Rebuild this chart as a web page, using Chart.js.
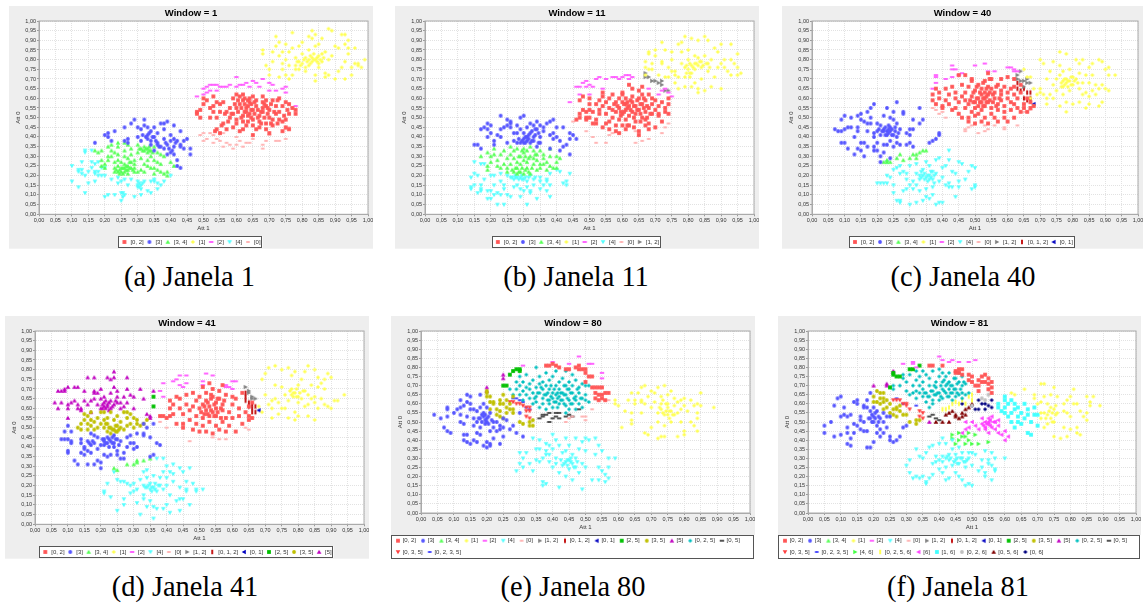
<!DOCTYPE html>
<html>
<head>
<meta charset="utf-8">
<title>Janelas</title>
<script src="https://cdn.jsdelivr.net/npm/chart.js@4"></script>
<style>
  body { margin: 0; background: #fff; }
  canvas { position: absolute; filter: blur(0.35px); }
  .cap { position: absolute; font-family: "Liberation Serif", serif; font-size: 28.4px; line-height: 32px; white-space: nowrap; transform: translateX(-50%); color: #000; }
</style>
</head>
<body>
<script>
// all points are flat x,y pairs in hundredths
const seriesLabels = ["[0, 2]", "[3]", "[3, 4]", "[1]", "[2]", "[4]", "[0]", "[1, 2]", "[0, 1, 2]", "[0, 1]", "[2, 5]", "[3, 5]", "[5]", "[0, 2, 5]", "[0, 5]", "[0, 3, 5]", "[0, 2, 3, 5]", "[4, 6]", "[0, 2, 5, 6]", "[6]", "[1, 6]", "[0, 2, 6]", "[0, 5, 6]", "[0, 6]"];
const seriesColors = ["#ff5555", "#5555ff", "#55ff55", "#ffff55", "#ff55ff", "#55ffff", "#ffafaf", "#808080", "#c00000", "#0000c0", "#00c000", "#c0c000", "#c000c0", "#00c0c0", "#404040", "#ff4040", "#4040ff", "#40ff40", "#ffff40", "#ff40ff", "#40ffff", "#c0c0c0", "#800000", "#000080"];
const seriesShapes = ["rect", "circle", "up", "diamond", "hbar", "down", "oval", "right", "vbar", "left", "rect", "circle", "up", "diamond", "hbar", "down", "oval", "right", "vbar", "left", "rect", "circle", "up", "diamond"];

const tickValues = [0, 0.05, 0.1, 0.15, 0.2, 0.25, 0.3, 0.35, 0.4, 0.45, 0.5, 0.55, 0.6, 0.65, 0.7, 0.75, 0.8, 0.85, 0.9, 0.95, 1];

// Window 1
const w1Red = [48,53,48,52,49,50,49,54,50,57,51,59,50,60,53,61,54,58,53,56,52,55,53,53,52,50,55,57,56,58,55,53,54,50,56,47,54,44,55,42,57,44,58,50,57,53,58,55,59,60,60,62,61,61,62,62,62,59,61,57,60,55,59,52,60,49,60,47,59,45,61,43,62,44,63,46,62,48,62,51,63,53,63,55,64,58,64,60,65,61,66,59,66,56,65,54,64,52,65,49,65,46,66,44,65,41,67,45,67,48,67,51,68,53,68,55,68,58,68,61,69,59,69,56,70,54,70,50,69,47,69,44,70,42,71,46,71,49,72,52,72,56,71,59,73,60,74,56,73,53,73,49,74,48,75,45,74,43,76,44,75,49,76,52,77,55,78,54,78,52,76,57,75,58];
const w1RedCore = [58.5,52,59.5,57,60.5,53,60.5,59,61.5,50,61.5,55,62.5,53,62.5,57,62.5,60,63.5,48,63.5,51,63.5,56,63.5,59,64.5,50,64.5,54,64.5,57,65.5,52,65.5,58,66.5,50,66.5,54,67.5,47,67.5,53,68.5,50,68.5,57,69.5,52,69.5,55,70.5,47,70.5,57,71.5,53,72.5,47,72.5,59,74.5,51,75.5,54,56.5,52,55.5,46,57.5,48,53.5,43];
const w1Blue = [17,37,20,41,21,42,21,40,22,38,23,43,26,38,26,45,27,37,28,47,27,39,29,49,30,40,30,45,31,38,31,44,32,49,32,46,33,45,33,41,33,39,34,38,34,43,35,45,35,40,36,37,36,42,37,47,37,35,38,47,38,44,38,39,39,48,39,36,40,32,40,38,40,41,41,46,41,39,41,35,41,31,42,38,42,28,43,43,43,35,43,24,44,38,44,34,45,39,46,34,46,31,42,25,43,36,39,31,38,34,36,36,35,33,34,36];
const w1BlueCore = [32.5,40,33.5,42,34.5,40,35.5,38,36.5,35,38.5,37,39.5,34,40.5,33,41.5,37,31.5,41];
const w1Green = [17,33,18,32,19,33,19,28,19,25,20,24,20,26,21,35,21,30,21,28,22,36,22,33,22,30,23,32,23,27,23,24,23,22,24,37,24,35,24,31,24,28,24,25,24,22,25,24,25,22,25,27,26,37,26,33,26,30,26,26,26,24,26,22,27,36,27,29,27,25,27,23,27,21,28,34,28,31,28,27,28,24,29,26,29,28,29,24,29,22,30,36,30,32,30,22,31,34,31,29,31,23,32,35,32,33,32,26,32,22,33,34,33,32,33,28,33,25,34,33,34,30,34,24,35,35,35,28,35,24,35,21,36,32,36,27,36,23,37,31,37,26,37,22,38,30,38,21,39,22,39,20,40,27,41,25];
const w1GreenCore = [24.5,23,25.5,24,25.5,21,26.5,23,26.5,25,27.5,24,27.5,27,28.5,23,23.5,23,24.5,21,32.5,34,33.5,33,34.5,32,31.5,33,33.5,35,30.5,34];
const w1Yellow = [68,85,68,83,69,77,70,72,70,75,71,79,71,84,72,87,72,92,73,89,73,71,73,82,74,75,74,84,74,78,75,88,75,80,75,72,76,70,76,77,76,84,77,94,77,72,77,86,78,77,78,81,78,75,79,87,79,79,79,75,80,83,80,78,80,89,81,76,81,81,81,74,82,92,82,85,82,80,82,77,83,95,83,91,83,81,83,79,84,93,84,87,84,80,84,72,84,69,85,88,85,82,85,78,85,76,86,91,86,83,86,79,87,84,87,73,87,71,88,96,88,80,88,72,89,95,89,82,90,87,90,70,91,86,91,74,92,93,92,76,93,70,93,79,93,88,93,93,94,90,94,86,94,83,95,76,95,72,96,86,96,78,97,78,97,77,98,76,99,80];
const w1YellowCore = [79.5,77,80.5,80,81.5,79,82.5,82,83.5,80,83.5,83,84.5,79,84.5,81,85.5,80,86.5,81,82.5,78,78.5,79];
const w1Pink = [48,61,50,62,50,65,51,63,51,66,52,64,52,67,53,67,54,64,54,67,55,66,56,66,57,66,58,67,60,66,60,71,61,67,62,67,63,68,64,66,65,69,66,68,67,66,68,70,70,68,71,67,70,64,72,64,74,65,75,66,75,63,78,56];
const w1Cyan = [10,25,10,17,12,22,12,23,12,14,13,23,13,27,13,21,14,20,14,11,14,32,14,33,15,16,15,22,16,27,16,33,16,24,17,22,17,17,17,21,17,26,18,27,18,20,18,22,19,24,19,20,20,9,20,24,20,20,21,10,22,18,23,10,24,19,24,16,25,7,25,11,25,17,26,10,26,18,27,15,28,18,29,9,30,15,30,17,30,14,31,15,31,13,31,10,32,17,33,12,34,17,34,11,35,17,35,18,36,16,36,13,37,15,38,17,40,20];
const w1CyanCore = [30.5,16,30.5,14,31.5,16,25.5,11,25.5,9];
const w1Rose = [49,41,50,38,50,42,51,39,52,42,53,37,53,41,54,39,55,38,56,35,56,42,57,37,58,36,59,34,60,36,60,40,61,38,62,35,63,37,64,37,65,39,68,34,68,36,69,38,70,41,72,38,73,38,75,39,75,44,76,45];

// Window 11
const w11Red = [46,49,47,50,47,52,47,59,48,54,48,61,49,50,49,49,49,53,50,60,50,57,50,54,50,50,51,47,51,53,52,47,52,49,52,57,53,52,53,54,53,59,54,56,54,61,54,63,54,45,55,47,55,58,55,52,56,48,56,44,56,60,56,55,57,50,57,54,57,62,58,53,58,58,58,46,58,43,59,49,59,55,59,60,59,42,60,46,60,52,60,58,60,62,60,63,61,44,61,49,61,54,61,57,61,60,62,67,62,51,62,56,62,46,63,53,63,58,63,61,63,65,64,52,64,56,64,48,65,64,65,60,65,54,65,43,65,41,66,66,66,50,66,57,66,62,67,49,67,46,67,53,67,59,68,47,68,44,68,55,68,62,69,52,69,57,69,60,70,45,70,54,70,59,71,52,71,56,71,51,72,48,72,58,73,55,73,53,74,57,74,60,74,52];
const w11RedCore = [60.5,57,60.5,53,61.5,55,61.5,58,62.5,54,62.5,59,63.5,56,63.5,50,64.5,54,64.5,59,65.5,57,65.5,52,66.5,55,66.5,60,67.5,50,67.5,56,58.5,56,59.5,53,59.5,51,57.5,57,68.5,52,61.5,46,63.5,45,65.5,48];
const w11Blue = [15,36,16,36,17,44,17,34,18,45,19,47,19,44,19,40,20,46,20,42,21,36,22,41,21,38,23,51,23,44,23,40,24,45,25,49,25,46,25,37,26,48,26,47,26,45,27,42,27,38,28,46,28,37,28,42,29,37,29,50,29,44,30,51,30,42,30,39,30,37,31,40,31,38,31,45,32,37,32,42,32,47,33,46,33,40,33,38,34,44,34,48,34,35,35,40,35,37,35,46,36,45,36,43,37,47,38,41,38,48,38,34,39,49,39,42,39,39,40,40,40,45,41,33,41,38,42,45,42,35,43,36,44,31,44,42,44,39,45,41,46,39];
const w11BlueCore = [29.5,38,30.5,40,30.5,37,31.5,41,31.5,39,32.5,43,32.5,38,33.5,41,33.5,44,34.5,42,34.5,37,28.5,39];
const w11Green = [17,30,19,32,19,25,19,23,20,30,20,27,21,34,21,31,22,25,22,28,23,24,23,31,24,26,24,33,25,22,25,29,25,24,26,31,26,26,26,35,27,33,27,22,27,29,28,27,28,24,28,21,28,34,29,30,29,22,29,26,30,34,30,28,30,32,30,21,31,33,31,24,31,27,32,30,32,21,32,35,33,26,33,29,33,33,34,23,34,28,34,31,35,26,35,33,35,24,36,31,36,29,36,26,37,27,37,23,38,30,38,34,38,25,39,24,40,30,40,27,40,24,41,29];
const w11GreenCore = [27.5,24,28.5,22,28.5,30,29.5,24,29.5,33,30.5,23,30.5,30,31.5,22,31.5,29,32.5,24,26.5,23,33.5,31];
const w11Yellow = [67,76,67,79,67,72,68,84,68,83,68,75,69,75,69,78,70,85,70,82,71,72,72,89,72,78,72,79,73,85,73,71,74,71,74,76,75,80,75,74,75,84,76,72,76,68,76,74,77,88,77,71,77,65,78,89,78,84,78,78,79,92,79,71,79,76,79,66,80,85,80,80,80,75,81,91,81,77,81,73,81,66,82,82,82,78,82,75,82,68,83,90,83,81,83,77,83,65,83,63,84,79,84,76,84,70,85,92,85,82,85,64,86,90,86,78,86,74,87,80,87,66,88,86,88,71,89,84,89,76,90,88,90,78,90,65,91,80,91,76,92,74,93,88,93,80,93,72,94,78,95,83,95,76,95,72,96,73];
const w11YellowCore = [79.5,77,80.5,73,80.5,78,81.5,76,82.5,78,83.5,79,84.5,77,85.5,78,86.5,76,79.5,73,80.5,71];
const w11Pink = [44,58,46,66,47,66,47,62,48,68,49,69,49,66,50,67,50,62,51,66,52,70,53,71,54,65,55,70,57,71,58,71,59,70,60,71,61,72,62,72,62,70,63,71,68,65,71,62,72,64,73,65,74,63,75,61];
const w11Cyan = [14,19,14,14,14,13,15,21,15,27,15,15,16,11,16,20,17,15,17,12,17,26,17,13,18,18,18,26,19,12,19,8,20,8,20,12,20,20,21,20,21,15,21,10,22,5,22,11,23,17,23,21,23,10,24,5,24,15,24,13,25,10,25,20,26,19,26,9,27,18,27,14,28,15,28,19,29,19,29,9,29,13,30,18,30,12,31,17,31,14,31,5,32,12,32,11,32,20,33,18,33,15,34,8,35,13,35,17,35,19,36,15,37,12,37,18,37,17,38,21,38,9,38,15,40,23,41,22,42,16,43,17,44,21,43,15];
const w11CyanCore = [27.5,19,28.5,18,29.5,20,29.5,18,30.5,19,31.5,19,26.5,19,27.5,20,33.5,19];
const w11Rose = [45,48,49,43,51,40,52,37,55,37,56,41,57,42,59,42,64,37,66,38,68,39,72,42,73,45,74,47,64,43];
const w11Gray = [67,73,67,71,68,71,69,69,70,69,71,68,72,67,72,69,73,64,74,64];

// Window 40
const w40Red = [37,62,37,59,38,65,38,57,39,60,39,63,40,56,40,55,41,65,41,59,42,62,42,57,43,54,43,66,44,60,44,63,44,55,45,58,45,52,45,72,46,67,46,61,46,50,47,55,47,59,47,72,47,63,48,50,48,66,48,57,48,48,49,53,49,70,49,61,49,69,50,47,50,58,50,55,50,64,50,51,51,67,51,60,51,56,51,52,52,48,52,62,52,65,52,58,52,54,53,69,53,60,53,63,53,56,53,50,54,73,54,66,54,62,54,58,54,47,55,70,55,65,55,55,55,52,56,60,56,63,56,50,57,67,57,57,57,54,57,48,58,70,58,62,58,59,58,64,59,50,59,56,59,66,59,53,60,71,60,60,60,63,60,48,61,58,61,65,61,54,62,70,62,66,62,57,62,62,62,50,63,55,63,60,64,67,64,53,64,63,65,57,65,55,66,60,66,53,67,58,67,55,68,56];
const w40RedCore = [50.5,60,50.5,66,51.5,63,51.5,58,52.5,60,52.5,56,52.5,68,53.5,65,53.5,61,53.5,58,54.5,63,54.5,59,54.5,70,55.5,62,55.5,58,56.5,66,56.5,56,57.5,60,48.5,59,49.5,58,49.5,63];
const w40Blue = [7,44,8,43,9,43,9,37,9,49,10,44,10,51,10,37,11,34,11,45,12,45,12,50,13,31,13,40,14,51,14,34,14,43,14,45,15,33,15,52,15,49,15,37,16,48,16,30,16,37,17,53,17,47,17,43,17,35,18,50,18,47,18,55,19,57,19,40,19,35,19,33,19,42,20,43,20,37,20,33,20,47,21,46,21,41,21,27,21,30,22,51,22,44,22,36,22,32,22,43,23,55,23,43,23,41,23,36,24,50,24,45,24,43,24,38,24,29,25,53,25,49,25,41,25,35,26,40,26,37,26,58,26,47,27,44,27,36,28,52,28,53,29,42,29,36,30,44,30,41,30,37,31,35,31,49,31,44,33,55,33,47,34,49,36,37,37,38,38,39,39,42,39,41];
const w40BlueCore = [21.5,43,22.5,45,22.5,41,23.5,44,23.5,42,23.5,46,24.5,41,24.5,44,25.5,43,25.5,45,26.5,42,20.5,44];
const w40Green = [22,27,23,27,23,28,24,27,26,29,27,31,28,28,30,29,31,31,32,31,32,29,33,32,34,33,35,33];
const w40Yellow = [65,75,66,71,67,71,67,60,68,65,68,56,69,62,70,63,70,80,70,65,71,62,71,78,72,70,72,60,72,57,73,62,73,74,74,67,74,79,74,60,75,70,75,64,76,77,76,84,76,72,76,56,77,66,77,69,77,74,77,62,78,83,78,68,78,70,78,58,78,53,79,75,79,64,79,69,80,67,80,71,80,57,81,70,81,80,82,73,82,78,82,65,82,58,83,62,83,68,83,80,84,72,84,63,84,55,85,76,85,68,85,61,85,57,86,78,86,72,86,64,87,67,87,62,88,80,88,65,88,56,89,79,89,67,89,58,90,75,90,65,91,64,91,76,91,72,93,72];
const w40YellowCore = [76.5,68,77.5,70,77.5,67,78.5,69,78.5,66,79.5,71,79.5,67,80.5,69,76.5,66,81.5,68];
const w40Pink = [37,65,38,72,38,71,38,68,41,70,43,77,43,75,44,75,43,71,45,72,46,73,50,77,53,78,54,74,56,74,60,76,61,76,62,75,62,74,63,74];
const w40Cyan = [20,16,21,16,22,16,23,27,23,20,23,16,24,19,25,15,25,23,26,24,25,11,26,7,27,25,27,21,27,7,27,6,28,12,28,22,29,18,29,21,29,13,30,15,30,25,30,5,31,17,31,13,32,21,32,26,32,15,32,6,33,20,33,12,33,18,34,7,34,23,34,20,35,27,35,19,35,9,35,13,36,20,36,18,36,25,36,8,37,22,37,18,37,14,37,10,38,21,38,28,38,5,39,17,39,29,39,6,40,19,40,24,40,6,41,15,41,25,42,16,42,14,42,28,42,33,43,14,43,22,44,21,44,9,45,14,45,27,45,17,46,26,47,18,48,22,49,25,49,13,50,14,50,24,50,15];
const w40CyanCore = [33.5,19,34.5,18,34.5,21,35.5,20,35.5,17,36.5,19,36.5,22,37.5,20,37.5,16,33.5,22];
const w40Rose = [37,55,38,54,39,52,40,53,41,50,47,44,47,43,48,45,49,46,51,42,53,43,53,46,54,44,56,46,59,44,59,45,63,46,65,53,66,53,67,54];
const w40Gray = [63,72,63,70,64,74,64,69,65,69,65,66,66,70,66,68,67,68];
const w40DarkRed = [63,68,63,65,64,64,65,65,66,63,67,63,66,59,65,60,67,59,67,60];
const w40DarkBlue = [68,57];

// Window 41
const w41Red = [38,56,39,56,40,55,41,64,41,60,41,56,42,62,42,57,43,66,43,52,44,60,44,65,45,57,45,50,45,52,46,67,46,62,47,54,47,59,48,68,48,61,48,49,49,64,49,56,49,52,50,66,50,60,50,48,51,71,51,55,51,62,51,51,52,68,52,64,52,59,52,48,53,73,53,56,53,61,53,53,54,70,54,66,54,58,54,47,55,63,55,60,55,51,55,56,56,69,56,65,56,49,57,72,57,59,57,53,57,62,58,67,58,55,58,48,59,58,59,51,60,62,60,66,60,55,61,65,61,48,62,56,62,60,63,68,63,52,64,58,65,54,65,61,65,56,66,55,66,63];
const w41RedCore = [51.5,61,52.5,57,52.5,63,53.5,59,53.5,65,54.5,56,54.5,62,55.5,58,55.5,65,56.5,60,56.5,55,53.5,67,51.5,57,50.5,58,57.5,64];
const w41Blue = [8,44,9,44,9,48,10,51,10,44,10,37,10,38,11,48,11,42,11,43,12,33,13,31,14,37,14,44,14,42,15,39,15,40,15,36,16,43,16,31,16,38,17,47,17,41,17,37,18,46,18,42,18,31,19,33,19,45,19,39,20,41,20,32,20,29,21,44,21,43,21,41,21,36,22,45,22,42,22,35,23,43,23,36,24,46,24,40,24,42,25,44,25,38,25,36,26,43,26,34,27,37,27,34,28,45,28,40,29,46,29,42,30,42,30,39,31,47,31,40,33,52,33,46,33,47,34,50,35,45,35,35,36,36,36,52,37,42,38,41];
const w41BlueCore = [20.5,44,21.5,42,22.5,44,22.5,40,23.5,42,23.5,45,24.5,44,16.5,42,17.5,43,25.5,41];
const w41Green = [24,29,25,28,28,31,30,31,31,33,31,32,33,33,35,34];
const w41Yellow = [68,61,69,58,69,75,70,78,70,67,71,81,71,62,72,60,72,64,72,55,73,72,73,82,73,65,74,63,74,57,75,80,75,71,75,60,76,67,76,60,77,81,77,55,77,64,78,67,78,77,78,70,79,79,79,68,79,58,79,54,80,72,80,66,80,63,80,56,81,75,81,65,82,79,82,69,82,61,83,82,83,67,83,62,83,56,84,65,84,72,85,80,85,66,85,63,85,54,86,76,86,71,86,60,87,73,87,65,88,75,88,62,88,70,89,78,89,61,90,76,90,60,91,64,92,64,94,67];
const w41YellowCore = [78.5,68,79.5,70,79.5,66,80.5,68,77.5,69,78.5,66,81.5,69];
const w41Pink = [38,69,39,66,39,73,42,74,43,75,44,72,45,71,44,77,46,77,46,73,51,74,51,72,52,78,54,77,59,71,60,70,58,71,58,72,60,74,61,74];
const w41Cyan = [21,16,21,17,22,21,23,14,24,27,25,7,25,23,26,22,27,13,27,10,27,22,28,21,29,16,29,20,30,17,30,21,31,18,31,11,32,5,32,23,33,15,33,27,33,20,33,13,34,19,34,28,34,9,34,24,35,18,35,12,35,21,36,9,36,19,36,3,36,25,37,17,37,34,37,8,38,24,38,20,39,27,39,18,39,34,39,8,40,30,40,10,40,20,40,24,41,27,41,15,41,6,42,31,42,22,42,26,43,12,44,29,44,13,44,19,44,7,45,27,45,13,46,18,46,22,46,17,47,29,47,10,48,21,49,18,49,17,51,18];
const w41CyanCore = [34.5,20,35.5,19,35.5,17,36.5,21,36.5,18,33.5,19,37.5,20];
const w41Rose = [38,53,40,50,47,43,54,45,56,44,58,44,64,50,65,49];
const w41Gray = [64,71,65,69,65,68,66,66,66,65,67,65];
const w41DarkRed = [64,68,64,66,64,64,65,63,65,61,66,60,66,62,66,58,67,58,67,61];
const w41DarkBlue = [68,59];
const w41DarkGreen = [36,66,36,61];
const w41Olive = [13,50,14,49,14,52,15,54,15,57,16,49,16,52,16,56,17,58,17,54,17,51,18,49,18,53,19,55,19,50,20,52,20,58,21,58,21,54,21,50,22,48,22,52,22,55,23,58,23,50,23,47,24,54,24,49,25,48,25,51,25,56,26,50,26,53,27,58,27,49,28,58,28,55,28,51,29,57,29,52,30,55,30,50,31,54,31,52,32,51,33,52,34,54];
const w41OliveCore = [23.5,49,24.5,48,24.5,51,25.5,49,22.5,50,21.5,52];
const w41Purple = [6,63,7,60,7,69,8,63,8,69,9,69,9,70,10,55,10,62,10,60,10,71,11,63,12,64,12,71,13,71,13,62,13,60,14,60,14,59,15,69,15,64,16,76,16,62,17,58,17,64,18,76,18,68,18,69,18,65,19,68,19,62,20,65,20,70,20,60,21,63,21,61,21,66,22,62,22,61,22,76,23,60,23,68,23,75,23,64,24,79,24,76,24,62,24,71,25,69,25,66,25,63,26,63,26,60,27,61,27,66,28,76,28,70,28,63,29,67,30,60,30,66,32,70,33,65,35,56,35,55,34,57,36,69];
const w41PurpleCore = [20.5,62,21.5,60,21.5,64,22.5,59,22.5,63,23.5,61,24.5,64,20.5,60];

// Window 80
const w80Red = [38,81,39,81,40,82,41,81,42,80,44,79,45,79,47,80,48,81,48,79,49,79,50,79,50,77,51,75,52,75,50,72,52,69,53,69,53,66,53,63,54,69,54,65,54,62,55,69,55,65,55,63,56,62,56,66,57,66];
const w80Blue = [4,54,6,52,7,47,8,45,8,57,8,58,8,53,9,44,10,55,11,57,12,62,12,58,12,54,12,50,13,43,13,59,13,49,13,40,14,65,14,61,14,53,14,43,14,39,15,64,15,60,15,57,15,38,16,57,16,52,16,48,16,40,17,50,17,56,17,39,17,44,18,65,18,58,18,52,18,47,18,43,19,60,19,55,19,53,19,37,20,52,20,50,20,58,20,39,20,36,21,55,21,45,21,37,21,38,22,50,22,47,22,41,23,45,23,50,24,48,24,38,24,46,25,52,25,42,25,47,26,51,27,46,28,48,29,44,31,42,30,55];
const w80BlueCore = [17.5,52,18.5,50,18.5,54,19.5,51,19.5,49,19.5,54,20.5,53,20.5,49,21.5,51];
const w80Yellow = [59,62,59,60,60,59,61,47,62,56,63,62,64,55,64,66,65,60,64,51,64,49,65,62,66,66,67,62,67,55,67,69,67,61,68,70,68,44,68,60,69,43,69,64,70,67,70,58,70,47,71,66,71,61,72,55,72,50,72,41,72,69,73,60,73,57,73,64,73,42,74,70,74,54,74,48,74,42,75,65,75,58,75,54,75,60,76,56,76,50,76,67,77,59,77,54,77,63,78,61,78,55,78,42,79,50,79,57,79,62,80,63,80,45,80,43,80,59,81,56,82,62,82,50,83,59,83,48,84,60,84,55,84,45,84,52,85,66,85,59,89,58];
const w80YellowCore = [72.5,58,73.5,55,74.5,60,74.5,56,75.5,56,75.5,52,73.5,62,76.5,54];
const w80Pink = [31,81,40,83,45,82,48,86,51,82,52,82,55,77,55,74];
const w80Cyan = [29,23,30,27,30,33,31,25,31,30,32,33,33,27,34,23,34,41,35,29,35,35,36,40,36,35,36,28,37,15,37,17,37,30,38,38,38,16,38,34,38,32,39,37,39,28,39,32,40,35,40,25,40,43,41,40,41,27,41,30,42,22,42,14,42,37,43,33,43,26,44,41,44,20,44,28,44,34,45,37,45,29,45,24,46,27,46,32,46,18,47,25,47,30,47,41,48,35,48,22,49,13,49,27,49,39,50,25,50,34,50,41,51,40,52,18,53,32,53,41,54,18,54,25,54,37,55,23,55,34,56,17,56,21,57,30,57,25,57,19,59,30];
const w80CyanCore = [43.5,27,44.5,29,44.5,26,45.5,28,45.5,30,46.5,25,47.5,28,42.5,29];
const w80Rose = [56,62,57,62,52,57,44,50,45,52,46,53,49,53,50,53,50,51];
const w80DarkGreen = [25,70,26,70,27,76,28,78,29,79,30,79,30,78];
const w80Olive = [20,66,20,64,20,67,21,61,21,64,21,57,22,60,22,61,23,57,23,54,24,60,24,62,24,56,24,53,25,60,25,65,25,52,26,58,26,55,26,62,27,60,27,57,28,55,28,57,28,64,30,50,31,49,33,50,33,48,34,48,34,51];
const w80Purple = [20,67,20,69,25,74,25,76];
const w80Teal = [27,68,28,65,29,72,29,68,30,75,30,70,30,65,31,72,31,67,31,62,32,69,32,65,32,76,33,63,33,68,33,71,34,60,34,66,34,73,35,69,35,64,35,61,35,80,36,75,36,71,36,66,36,58,37,72,37,68,37,63,37,60,38,77,38,65,38,70,38,57,39,73,39,68,39,62,39,60,40,75,40,66,40,63,40,58,41,78,41,70,41,65,41,61,42,72,42,68,42,64,42,60,43,74,43,66,43,62,44,78,44,70,44,65,44,59,44,55,45,72,45,68,45,62,45,57,46,76,46,66,46,70,46,60,47,73,47,64,47,62,47,57,48,69,48,66,48,60,49,71,49,63,49,58,50,70,50,65,50,62,51,70,51,61];
const w80TealCore = [39.5,64,40.5,68,40.5,61,41.5,66,41.5,63,41.5,58,42.5,66,42.5,62,43.5,70,43.5,65,43.5,60,44.5,68,44.5,63,45.5,66,45.5,60,38.5,66,38.5,62,39.5,70,46.5,63,47.5,68,36.5,69,35.5,66,34.5,63,37.5,65,48.5,63];
const w80Dark = [36,52,37,53,37,54,38,54,39,55,39,50,40,52,41,55,41,53,42,52,42,55,44,53,45,54,46,53,48,57];
const w80RedDown = [27,61,28,61,29,60,30,60,31,59,32,56,32,53,32,58,33,52,33,56,33,58];
const w80BlueOval = [28,63,29,63,30,62,31,61,32,58,33,57];

// Window 81
const w81Red = [37,81,38,81,41,81,45,78,45,77,46,79,46,77,47,79,47,76,49,76,49,73,50,75,50,72,51,70,52,73,52,70,52,67,53,72,53,75,54,72,54,76,55,74,55,71,55,68,56,72,56,69,56,66];
const w81Blue = [5,48,5,44,7,50,8,59,8,42,9,63,10,43,10,53,10,64,11,54,11,58,12,44,12,47,12,38,12,53,13,41,13,54,13,37,14,44,14,49,14,61,15,60,15,62,15,48,16,46,16,51,16,53,17,59,17,58,17,50,17,45,18,62,18,58,18,45,18,36,19,56,19,52,19,66,19,36,20,58,20,53,20,50,20,39,21,56,21,48,21,44,22,52,22,46,22,42,23,55,23,50,23,44,24,53,24,47,25,42,25,40,25,53,26,39,27,40,28,42,29,47,30,48];
const w81BlueCore = [18.5,52,19.5,54,19.5,50,20.5,52,20.5,55,21.5,53,21.5,50];
const w81Yellow = [62,66,63,65,66,68,69,63,69,65,70,60,71,71,71,61,71,55,71,52,72,55,72,64,72,71,72,47,73,60,73,54,73,49,74,65,74,58,74,52,75,69,75,57,75,50,75,42,76,64,76,55,77,41,78,56,78,60,78,47,79,62,79,42,79,55,80,64,80,46,80,53,81,68,81,60,82,44,82,47,82,60,83,56,83,43,84,53,85,64,85,55,85,51,86,59,86,61,87,64,89,59];
const w81YellowCore = [73.5,56,74.5,55,74.5,50,75.5,54,75.5,59,72.5,52];
const w81Pink = [29,82,32,83,32,82,33,80,40,86,41,84,43,83,44,84,46,83,49,83,51,84];
const w81Cyan = [30,26,31,29,31,22,32,19,33,20,33,35,34,19,34,31,35,20,35,30,36,17,36,33,36,16,37,36,37,19,38,21,38,37,38,27,39,31,39,28,40,38,40,29,40,24,41,41,41,31,41,28,41,22,42,38,42,18,42,30,42,25,43,29,43,19,43,32,44,40,44,26,44,35,45,29,45,22,45,32,46,20,46,36,46,27,47,30,47,33,47,18,48,28,48,25,48,15,49,16,49,33,49,30,50,33,50,26,50,15,51,32,52,23,53,29,53,25,54,20,54,34,54,22,55,27,55,29,56,33,56,18,56,26,57,30,57,23,57,24,60,30];
const w81CyanCore = [43.5,30,44.5,28,45.5,30,45.5,27,46.5,30,47.5,28,48.5,29,42.5,31];
const w81DarkGreen = [26,77,26,76,27,75,28,75,31,79,32,79,34,81,25,69];
const w81Olive = [20,64,20,61,21,67,21,61,22,66,22,63,22,60,23,57,23,66,23,63,23,61,24,62,24,58,25,55,25,60,26,54,26,57,27,57,27,58,27,53,28,59,28,56,29,54,30,54,31,50,33,51,33,49,34,51];
const w81Purple = [20,70,24,71,24,70,26,78,37,50];
const w81Teal = [26,70,26,68,28,70,29,74,29,76,30,67,30,72,31,76,31,65,32,70,32,66,33,78,33,73,33,67,33,63,34,75,34,70,34,66,35,78,35,72,35,68,35,64,36,76,36,66,36,61,37,74,37,70,37,64,37,58,38,78,38,67,38,62,38,60,39,72,39,69,39,65,40,79,40,75,40,66,40,62,41,77,41,72,41,68,41,63,42,75,42,70,42,66,43,77,43,72,43,68,43,64,44,70,44,66,44,62,45,74,45,68,45,64,46,72,46,77,46,65,47,70,47,66,47,63,47,75,48,71,48,65,49,66];
const w81TealCore = [39.5,66,40.5,70,40.5,64,41.5,67,41.5,73,42.5,71,42.5,64,43.5,70,43.5,66,44.5,74,44.5,68,45.5,71,45.5,66,38.5,65,38.5,70,37.5,67,36.5,64,35.5,66,46.5,68,47.5,72];
const w81Dark = [37,53,38,54,39,52,40,51];
const w81RedDown = [26,62,27,62,28,62,29,60,30,60,31,57,30,59,34,56,34,53,35,55,35,52];
const w81BlueOval = [27,63,29,60,33,59];
const w81GreenRight = [44,43,44,41,45,38,46,40,46,44,47,42,48,42,48,38,49,44,49,40,50,38,51,43,52,38,55,39];
const w81YellowBar = [41,57,42,57,43,58,44,60,45,61,46,60,47,62,48,60,49,64,50,62,50,65];
const w81MagentaLeft = [47,44,48,46,48,50,49,47,50,50,51,48,52,46,53,52,53,49,54,47,54,50,54,46,55,44,55,52,55,49,55,50,56,47,56,53,57,46,57,50,58,44,58,51,58,48,59,43,60,40,60,45,61,42,54.5,49,55.5,51,55.5,48,56.5,50,53.5,48];
const w81CyanRect = [58,60,58,58,59,56,60,62,60,64,60,58,60,55,61,53,61,60,62,55,62,62,62,50,63,57,63,47,63,60,64,50,64,53,64,58,65,55,65,49,66,52,66,60,67,44,67,57,67,54,68,43,68,50,69,58,69,54,70,54,70,48];
const w81LightGray = [50,59,53,63,54,62,55,65];
const w81DarkRedUp = [39,50,41,50,42,54,43,50,43,55,44,56,45,53,45,54,46,52,47,53,47,55,48,54,48,57,49,58,50,60];
const w81Navy = [47,60,50,59,51,57,52,57,52,62,53,60,54,57,54,60,55,59,56,58,56,62];

const none = [];

// one list per window, same order as seriesLabels
const w1Series = [[...w1Red, ...w1RedCore], [...w1Blue, ...w1BlueCore], [...w1Green, ...w1GreenCore], [...w1Yellow, ...w1YellowCore], w1Pink, [...w1Cyan, ...w1CyanCore], w1Rose];
const w11Series = [[...w11Red, ...w11RedCore], [...w11Blue, ...w11BlueCore], [...w11Green, ...w11GreenCore], [...w11Yellow, ...w11YellowCore], w11Pink, [...w11Cyan, ...w11CyanCore], w11Rose, w11Gray];
const w40Series = [[...w40Red, ...w40RedCore], [...w40Blue, ...w40BlueCore], w40Green, [...w40Yellow, ...w40YellowCore], w40Pink, [...w40Cyan, ...w40CyanCore], w40Rose, w40Gray, w40DarkRed, w40DarkBlue];
const w41Series = [[...w41Red, ...w41RedCore], [...w41Blue, ...w41BlueCore], w41Green, [...w41Yellow, ...w41YellowCore], w41Pink, [...w41Cyan, ...w41CyanCore], w41Rose, w41Gray, w41DarkRed, w41DarkBlue, w41DarkGreen, [...w41Olive, ...w41OliveCore], [...w41Purple, ...w41PurpleCore]];
const w80Series = [w80Red, [...w80Blue, ...w80BlueCore], none, [...w80Yellow, ...w80YellowCore], w80Pink, [...w80Cyan, ...w80CyanCore], w80Rose, none, none, none, w80DarkGreen, w80Olive, w80Purple, [...w80Teal, ...w80TealCore], w80Dark, w80RedDown, w80BlueOval];
const w81Series = [w81Red, [...w81Blue, ...w81BlueCore], none, [...w81Yellow, ...w81YellowCore], w81Pink, [...w81Cyan, ...w81CyanCore], none, none, none, none, w81DarkGreen, w81Olive, w81Purple, [...w81Teal, ...w81TealCore], w81Dark, w81RedDown, w81BlueOval, w81GreenRight, w81YellowBar, w81MagentaLeft, w81CyanRect, w81LightGray, w81DarkRedUp, w81Navy];

const panels = [
  { title: "Window = 1", caption: "(a) Janela 1", series: w1Series, left: 9, top: 6, width: 364, plotLeft: 39, plotRight: 369, capX: 189.5, capY: 261 },
  { title: "Window = 11", caption: "(b) Janela 11", series: w11Series, left: 395, top: 6, width: 364, plotLeft: 425, plotRight: 755, capX: 576, capY: 261 },
  { title: "Window = 40", caption: "(c) Janela 40", series: w40Series, left: 782, top: 6, width: 361, plotLeft: 812, plotRight: 1141, capX: 963, capY: 261 },
  { title: "Window = 41", caption: "(d) Janela 41", series: w41Series, left: 5, top: 316, width: 364, plotLeft: 35, plotRight: 365, capX: 185, capY: 571 },
  { title: "Window = 80", caption: "(e) Janela 80", series: w80Series, left: 391, top: 316, width: 364, plotLeft: 421, plotRight: 751, capX: 573, capY: 571, wide: true },
  { title: "Window = 81", caption: "(f) Janela 81", series: w81Series, left: 778, top: 316, width: 363, plotLeft: 808, plotRight: 1137, capX: 958, capY: 571, wide: true },
];

function toPoints(flat) {
  const out = [];
  for (let i = 0; i < flat.length; i += 2) {
    out.push({ x: flat[i] / 100, y: flat[i + 1] / 100 });
  }
  return out;
}

function marker(shape, color) {
  const c = document.createElement("canvas");
  c.width = 8;
  c.height = 8;
  const g = c.getContext("2d");
  g.fillStyle = color;
  g.translate(4, 4);
  g.beginPath();
  if (shape === "rect") g.rect(-1.9, -1.9, 3.8, 3.8);
  if (shape === "hbar") g.rect(-2.2, -0.9, 4.4, 1.8);
  if (shape === "vbar") g.rect(-0.9, -2.2, 1.8, 4.4);
  if (shape === "circle") g.arc(0, 0, 1.9, 0, Math.PI * 2);
  if (shape === "oval") g.ellipse(0, 0, 2.2, 1.1, 0, 0, Math.PI * 2);
  const tri = { up: [0, -2.3, 2.3, 1.8, -2.3, 1.8], down: [0, 2.3, 2.3, -1.8, -2.3, -1.8], right: [2.3, 0, -1.8, 2.3, -1.8, -2.3], left: [-2.3, 0, 1.8, 2.3, 1.8, -2.3], diamond: [0, -2.1, 2.1, 0, 0, 2.1, -2.1, 0] }[shape];
  if (tri) {
    g.moveTo(tri[0], tri[1]);
    for (let i = 2; i < tri.length; i += 2) g.lineTo(tri[i], tri[i + 1]);
    g.closePath();
  }
  g.fill();
  return c;
}

// gray panel, white plot and the box round the legend
const panelFrame = {
  id: "panelFrame",
  beforeDraw(chart, args, opts) {
    const ctx = chart.ctx;
    const a = chart.chartArea;
    const hits = chart.legend.legendHitBoxes;
    const boxTop = Math.min(...hits.map((h) => h.top)) - 2.7;
    const boxBottom = Math.max(...hits.map((h) => h.top + h.height)) + 2.7;
    ctx.save();
    ctx.fillStyle = "#eeeeee";
    ctx.fillRect(0, 0, chart.width, opts.wide ? boxTop : boxBottom + 1);
    ctx.fillStyle = "#ffffff";
    ctx.fillRect(a.left, a.top, a.right - a.left, a.bottom - a.top);
    let l = 0;
    let w = chart.width - 1;
    if (!opts.wide) {
      l = Math.min(...hits.map((h) => h.left)) - 3;
      w = Math.max(...hits.map((h) => h.left + h.width)) + 2 - l;
    }
    ctx.fillRect(l, boxTop, w, boxBottom - boxTop);
    ctx.strokeStyle = "#555555";
    ctx.lineWidth = 1;
    ctx.strokeRect(Math.round(l) + 0.5, Math.round(boxTop) + 0.5, Math.round(w) - 1, Math.round(boxBottom - boxTop));
    ctx.restore();
  },
  afterDatasetsDraw(chart) {
    const ctx = chart.ctx;
    const a = chart.chartArea;
    ctx.save();
    ctx.strokeStyle = "#aaaaaa";
    ctx.strokeRect(a.left, a.top, a.right - a.left, a.bottom - a.top);
    ctx.restore();
  },
};

const tickFont = { family: "Liberation Sans", size: 5.5 };
const axisFont = { family: "Liberation Sans", size: 6 };

panels.forEach((p) => {
  const canvas = document.createElement("canvas");
  canvas.style.left = p.left + "px";
  canvas.style.top = p.top + "px";
  canvas.style.width = p.width + "px";
  canvas.style.height = "249px";
  canvas.width = p.width;
  canvas.height = 249;
  document.body.appendChild(canvas);

  const cap = document.createElement("div");
  cap.className = "cap";
  cap.style.left = p.capX + "px";
  cap.style.top = p.capY + "px";
  cap.textContent = p.caption;
  document.body.appendChild(cap);

  const datasets = p.series.map((flat, i) => ({
    label: seriesLabels[i],
    data: toPoints(flat),
    pointStyle: marker(seriesShapes[i], seriesColors[i]),
    pointRadius: 2.5,
    backgroundColor: seriesColors[i],
    borderColor: seriesColors[i],
  }));

  const grid = { color: "#e2e2e2", tickColor: "#999999", tickLength: 2, lineWidth: 1 };
  const labelTick = (v) => v.toFixed(2).replace(".", ",");

  new Chart(canvas, {
    type: "scatter",
    data: { datasets },
    plugins: [panelFrame],
    options: {
      responsive: false,
      animation: false,
      events: [],
      layout: { padding: 0 },
      plugins: {
        panelFrame: { wide: !!p.wide },
        tooltip: { enabled: false },
        title: {
          display: true,
          text: p.title,
          color: "#000",
          font: { family: "Liberation Sans", size: 9.5, weight: "bold", lineHeight: 1.2 },
          padding: { top: 2, bottom: 1.6 },
        },
        legend: {
          position: "bottom",
          align: p.wide ? "start" : "center",
          labels: {
            usePointStyle: true,
            pointStyleWidth: p.wide ? 3.4 : 6,
            padding: p.wide ? 5.3 : 2.7,
            color: "#333",
            font: { family: "Liberation Sans", size: 6 },
          },
        },
      },
      scales: {
        x: {
          type: "linear",
          min: 0,
          max: 1,
          afterBuildTicks(scale) { scale.ticks = tickValues.map((value) => ({ value })); },
          afterFit(scale) {
            scale.height = p.wide ? 19.4 : 22;
            scale.paddingLeft = 0;
            scale.paddingRight = p.left + p.width - p.plotRight;
          },
          grid,
          border: { color: "#aaaaaa", dash: [1, 1] },
          ticks: { font: tickFont, color: "#333", autoSkip: false, maxRotation: 0, padding: 1, callback: labelTick },
          title: { display: true, text: "Att 1", color: "#333", font: axisFont, padding: { top: 0, bottom: p.wide ? 1.8 : 4.4 } },
        },
        y: {
          type: "linear",
          min: 0,
          max: 1,
          afterBuildTicks(scale) { scale.ticks = tickValues.map((value) => ({ value })); },
          afterFit(scale) {
            scale.width = p.plotLeft - p.left;
            scale.paddingTop = 0;
            scale.paddingBottom = 0;
          },
          grid,
          border: { color: "#aaaaaa", dash: [1, 1] },
          ticks: { font: tickFont, color: "#333", autoSkip: false, padding: 1, callback: labelTick },
          title: { display: true, text: "Att 0", color: "#333", font: axisFont, padding: { top: 6, bottom: 0 } },
        },
      },
    },
  });
});
</script>
</body>
</html>
